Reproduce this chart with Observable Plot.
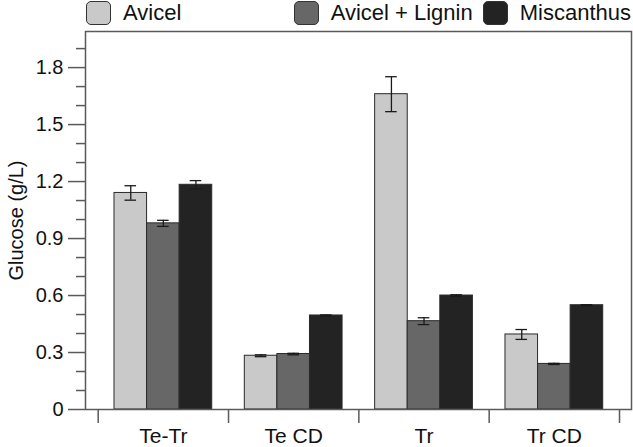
<!DOCTYPE html>
<html>
<head>
<meta charset="utf-8">
<script src="https://cdn.jsdelivr.net/npm/d3@7"></script>
<script src="https://cdn.jsdelivr.net/npm/@observablehq/plot@0.6"></script>
<style>
  body { margin: 0; background: #fff; font-family: "Liberation Sans", Arial, sans-serif; }
  #legend { position: relative; height: 28px; width: 633px; }
  #legend .row { position: absolute; left: 86px; right: 2px; top: 1px; display: flex; align-items: center; gap: 10px; }
  #legend .item { display: flex; align-items: center; gap: 12px; font-size: 22px; color: #111; line-height: 24px; }
  #legend .item.push { margin-left: auto; }
  #legend .sw { width: 23px; height: 22px; border: 1.3px solid #333; border-radius: 5px; }
</style>
</head>
<body>
<div id="legend"><div class="row"></div></div>
<div id="chart"></div>
<script>
// ---- data ----
const categories = ["Te-Tr", "Te CD", "Tr", "Tr CD"];
const seriesNames = ["Avicel", "Avicel + Lignin", "Miscanthus"];
const seriesColors = ["#c9c9c9", "#676767", "#232323"];
const avicel        = [1.14, 0.283, 1.66, 0.395];
const avicelErr     = [0.038, 0.005, 0.092, 0.026];
const avicelLignin  = [0.98, 0.292, 0.465, 0.24];
const avicelLigErr  = [0.016, 0.004, 0.018, 0.003];
const miscanthus    = [1.183, 0.495, 0.60, 0.549];
const miscanthusErr = [0.022, 0.003, 0.004, 0.003];
const yTicks = [0, 0.3, 0.6, 0.9, 1.2, 1.5, 1.8];
const yMinorTicks = [0.1, 0.2, 0.4, 0.5, 0.7, 0.8, 1.0, 1.1, 1.3, 1.4, 1.6, 1.7, 1.9];

// ---- build table ----
const values = [avicel, avicelLignin, miscanthus];
const errors = [avicelErr, avicelLigErr, miscanthusErr];
const rows = [];
categories.forEach((c, ci) => {
  seriesNames.forEach((s, si) => {
    rows.push({key: c + "|" + si, category: c, series: s, value: values[si][ci], err: errors[si][ci]});
  });
});
// band domain: a spacer band between (and around) groups
const padKeys = d3.range(categories.length + 1).map(i => "pad" + i);
const domain = [];
categories.forEach((c, ci) => {
  domain.push(padKeys[ci]);
  seriesNames.forEach((s, si) => domain.push(c + "|" + si));
});
domain.push(padKeys[categories.length]);
const midKeys = categories.map(c => c + "|1");

// ---- legend ----
const row = document.querySelector("#legend .row");
seriesNames.forEach((s, i) => {
  const it = document.createElement("div");
  it.className = "item" + (i === 1 ? " push" : "");
  const sw = document.createElement("div");
  sw.className = "sw";
  sw.style.background = seriesColors[i];
  const t = document.createElement("span");
  t.textContent = s;
  it.appendChild(sw); it.appendChild(t);
  row.appendChild(it);
});

// ---- chart ----
const chart = Plot.plot({
  width: 633,
  height: 419,
  marginLeft: 85,
  marginRight: 2,
  marginTop: 3,
  marginBottom: 38,
  style: {fontFamily: "Liberation Sans, Arial, sans-serif", fontSize: "20px", color: "#111", background: "#fff"},
  x: {domain, range: [81.4, 635.3], padding: 0, round: false, axis: null},
  y: {domain: [0, 1.99], axis: null},
  color: {domain: seriesNames, range: seriesColors},
  marks: [
    Plot.barY(rows, {x: "key", y: "value", fill: "series", stroke: "#2a2a2a", strokeWidth: 1}),
    Plot.ruleX(rows, {x: "key", y1: d => d.value - d.err, y2: d => d.value + d.err, stroke: "#1a1a1a", strokeWidth: 1.3}),
    Plot.tickY(rows, {x: "key", y: d => d.value - d.err, stroke: "#1a1a1a", strokeWidth: 1.3, insetLeft: 10.5, insetRight: 10.5}),
    Plot.tickY(rows, {x: "key", y: d => d.value + d.err, stroke: "#1a1a1a", strokeWidth: 1.3, insetLeft: 10.5, insetRight: 10.5}),
    Plot.frame({stroke: "#5a5a5a", strokeWidth: 1.5}),
    Plot.axisY({ticks: yTicks, tickSize: 17, tickPadding: 5, fontSize: 20, stroke: "#5a5a5a", strokeWidth: 1.5,
      tickFormat: d => d === 0 ? "0" : d.toFixed(1),
      label: "Glucose (g/L)", labelAnchor: "center", labelOffset: 77, labelArrow: "none"}),
    Plot.axisY({ticks: yMinorTicks, tickSize: 9, stroke: "#5a5a5a", strokeWidth: 1.5, tickFormat: () => "", label: null}),
    Plot.axisX({ticks: padKeys, tickSize: 14, stroke: "#5a5a5a", strokeWidth: 1.5, tickFormat: () => "", label: null}),
    Plot.axisX({ticks: midKeys, tickSize: 0, tickPadding: 19, fontSize: 21, tickFormat: k => k.split("|")[0], label: null})
  ]
});
document.getElementById("chart").appendChild(chart);
</script>
</body>
</html>
